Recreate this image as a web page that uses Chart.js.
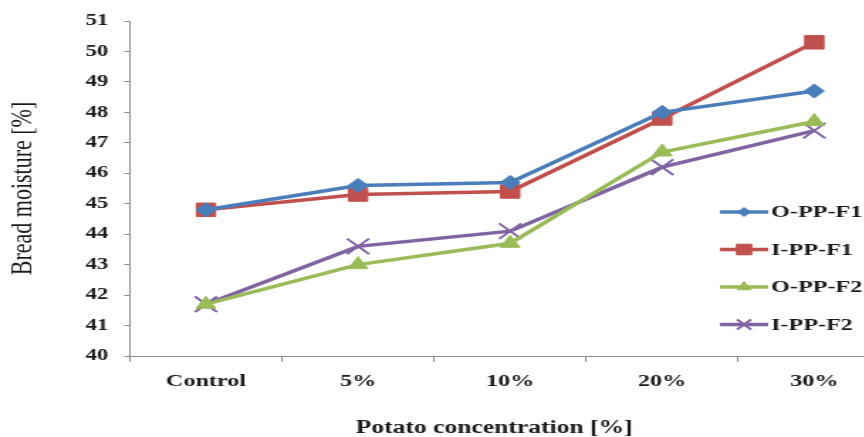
<!DOCTYPE html>
<html lang="en">
<head>
<meta charset="utf-8"/>
<script src="https://cdn.jsdelivr.net/npm/chart.js@4.4.0/dist/chart.umd.min.js"></script>
<style>
    html, body { margin: 0; padding: 0; background: #fff; overflow: hidden; }
    #wrap { width: 864px; height: 437px; overflow: hidden; position: relative; }
    /* the reference is stretched sideways, so draw narrow and stretch */
    #wrap canvas { transform: scaleX(1.42); transform-origin: 0 0; }
</style>
</head>
<body>
<div id="wrap"><canvas id="chart" width="640" height="437" style="width:640px;height:437px"></canvas></div>
<script>
const categories = ['Control', '5%', '10%', '20%', '30%'];
const oppF1 = [44.8, 45.6, 45.7, 48.0, 48.7];
const ippF1 = [44.8, 45.3, 45.4, 47.8, 50.3];
const oppF2 = [41.7, 43.0, 43.7, 46.7, 47.7];
const ippF2 = [41.7, 43.6, 44.1, 46.2, 47.4];
const yMin = 40, yMax = 51;
const yTitle = 'Bread moisture [%]';
const xTitle = 'Potato concentration [%]';

const serif = "'Liberation Serif', 'Times New Roman', serif";
const axisGray = '#8c8c8c';
const textColor = '#1a1a1a';

// legend drawn inside the plot, right side
const sideLegend = {
    id: 'sideLegend',
    afterDraw(chart) {
        const ctx = chart.ctx;
        ctx.save();
        chart.data.datasets.forEach((ds, i) => {
            const y = 212 + i * 37.5;
            const x0 = 507, x1 = 541;
            ctx.strokeStyle = ds.borderColor;
            ctx.fillStyle = ds.borderColor;
            ctx.lineWidth = 3.5;
            ctx.beginPath();
            ctx.moveTo(x0, y);
            ctx.lineTo(x1, y);
            ctx.stroke();
            ctx.lineWidth = ds.pointBorderWidth;
            Chart.helpers.drawPoint(ctx, {
                pointStyle: ds.pointStyle, rotation: 0,
                radius: ds.legendRadius, borderWidth: ds.pointBorderWidth
            }, (x0 + x1) / 2, y);
            ctx.fillStyle = textColor;
            ctx.font = 'bold 17px ' + serif;
            ctx.textAlign = 'left';
            ctx.textBaseline = 'middle';
            ctx.fillText(ds.label, x1 + 2, y + 1);
        });
        ctx.restore();
    }
};

// x axis title, placed a bit left of plot centre like the original
const bottomTitle = {
    id: 'bottomTitle',
    afterDraw(chart) {
        const a = chart.chartArea;
        const ctx = chart.ctx;
        ctx.save();
        ctx.fillStyle = textColor;
        ctx.font = 'bold 18px ' + serif;
        ctx.textAlign = 'center';
        ctx.textBaseline = 'middle';
        ctx.fillText(xTitle, a.left + (a.right - a.left) * 0.479, 428);
        ctx.restore();
    }
};

function series(label, data, color, style, radius, legendRadius, bw) {
    return {
        label: label,
        data: data,
        borderColor: color,
        backgroundColor: color,
        borderWidth: 3.5,
        pointStyle: style,
        pointRadius: radius,
        pointHoverRadius: radius,
        pointBackgroundColor: color,
        pointBorderColor: color,
        pointBorderWidth: bw,
        legendRadius: legendRadius,
        tension: 0
    };
}

new Chart(document.getElementById('chart'), {
    type: 'line',
    data: {
        labels: categories,
        datasets: [
            series('O-PP-F1', oppF1, '#4a7ebb', 'rectRot', 7, 4.5, 1),
            series('I-PP-F1', ippF1, '#c0504d', 'rect', 9.5, 7.5, 1),
            series('O-PP-F2', oppF2, '#9bbb59', 'triangle', 8, 5.5, 1),
            series('I-PP-F2', ippF2, '#8064a2', 'crossRot', 11, 7, 2)
        ]
    },
    options: {
        responsive: false,
        animation: false,
        layout: { padding: { left: 0, top: 21, right: 12, bottom: 0 } },
        plugins: {
            legend: { display: false },
            tooltip: { enabled: false }
        },
        scales: {
            x: {
                type: 'category',
                offset: true,
                afterFit(scale) { scale.height = 81; },
                grid: {
                    offset: true,
                    drawOnChartArea: false,
                    tickLength: 6,
                    color: axisGray
                },
                border: { display: true, color: axisGray, width: 1 },
                ticks: {
                    color: textColor,
                    padding: 9,
                    font: { family: serif, size: 17, weight: 'bold' },
                    maxRotation: 0
                }
            },
            y: {
                min: yMin,
                max: yMax,
                afterFit(scale) { scale.width = 91.5; },
                grid: {
                    drawOnChartArea: false,
                    tickLength: 4.2,
                    color: axisGray
                },
                border: { display: true, color: axisGray, width: 1 },
                ticks: {
                    stepSize: 1,
                    color: textColor,
                    padding: 11,
                    font: { family: serif, size: 16, weight: 'bold' }
                },
                title: {
                    display: true,
                    text: yTitle,
                    color: textColor,
                    padding: { top: 3, bottom: 0 },
                    font: { family: serif, size: 22, weight: 'normal' }
                }
            }
        }
    },
    plugins: [sideLegend, bottomTitle]
});
</script>
</body>
</html>
